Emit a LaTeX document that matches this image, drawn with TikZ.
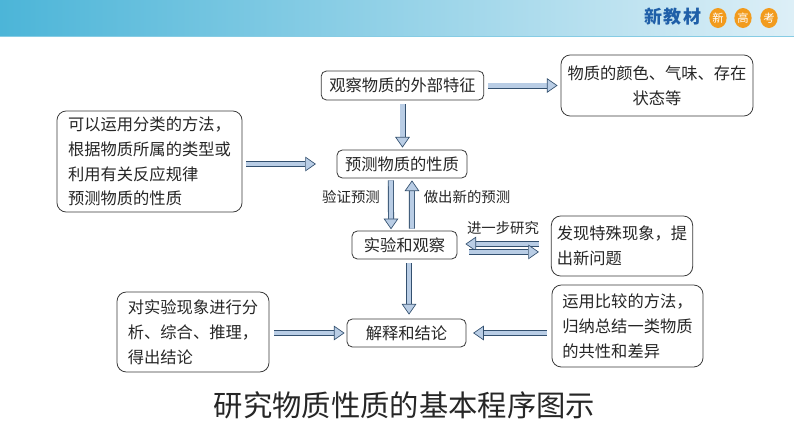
\documentclass[tikz,border=0pt]{standalone}
\usepackage{fontspec}
\setmainfont{Noto Sans CJK SC}
\usetikzlibrary{arrows.meta,shapes.geometric}
\definecolor{barleft}{HTML}{4CB5D8}
\definecolor{barmid}{HTML}{8FD0E6}
\definecolor{barright}{HTML}{DDEFF7}
\definecolor{arrowline}{HTML}{33506F}
\definecolor{arrowfill}{HTML}{B9CDE5}
\definecolor{boxline}{HTML}{3A3A3A}
\definecolor{brandblue}{HTML}{1F5FA8}
\definecolor{brandorange}{HTML}{F29B1D}
\tikzset{
  stepbox/.style={draw=boxline, line width=0.6pt, rounded corners=4pt, inner sep=0pt, font=\fontsize{12.2}{14}\selectfont, text=black!85},
  notebox/.style={draw=boxline, line width=0.6pt, rounded corners=7pt, inner sep=0pt, font=\fontsize{12.2}{18.6}\selectfont, text=black!85},
  blockarrow/.style={draw=arrowline, line width=0.6pt, double=arrowfill, double distance=3.3pt, -{Triangle[length=8pt,width=11pt,line width=0.5pt,fill=arrowfill]}},
  smalllabel/.style={inner sep=0pt, font=\fontsize{10.8}{13}\selectfont, text=black!85},
  brandchar/.style={inner sep=0pt, font=\fontsize{13.5}{15}\bfseries\selectfont, text=brandblue},
  brandball/.style={ellipse, fill=brandorange, minimum width=13pt, minimum height=15pt, inner sep=0pt, font=\fontsize{8.5}{10}\selectfont, text=white}
}
\begin{document}
\begin{tikzpicture}[x=0.75pt,y=-0.75pt]
\useasboundingbox (0,0) rectangle (794,447);
\fill[white] (0,0) rectangle (794,447);
\shade[left color=barleft, middle color=barmid, right color=barright] (0,0) rectangle (794,36);
\draw[barleft!60!barright, line width=0.5pt] (0,36) -- (794,36);

\node[brandchar] (brandone) at (653,17) {新};
\node[brandchar] (brandtwo) at (672,17) {教};
\node[brandchar] (brandthree) at (692,17) {材};
\node[brandball] (ballone) at (718,18) {新};
\node[brandball] (balltwo) at (743,18) {高};
\node[brandball] (ballthree) at (769,18) {考};

\node[stepbox, minimum width=122pt, minimum height=21.8pt] (observe) at (402.5,85.5) {观察物质的外部特征};
\node[stepbox, minimum width=97.5pt, minimum height=21pt] (predict) at (402,164) {预测物质的性质};
\node[stepbox, minimum width=78.8pt, minimum height=21pt] (test) at (404.5,245) {实验和观察};
\node[stepbox, minimum width=89.3pt, minimum height=21pt] (explain) at (406.5,333) {解释和结论};

\node[notebox, align=center, minimum width=144pt, minimum height=45.8pt] (feature) at (657,85.5) {物质的颜色、气味、存在\\状态等};
\node[notebox, align=left, minimum width=138.8pt, minimum height=75.8pt] (method) at (149.5,161.5) {可以运用分类的方法，\\根据物质所属的类型或\\利用有关反应规律\\预测物质的性质};
\node[notebox, align=left, minimum width=106pt, minimum height=45pt] (found) at (622,246) {发现特殊现象，提\\出新问题};
\node[notebox, align=left, minimum width=113.3pt, minimum height=61.5pt] (compare) at (627.5,326) {运用比较的方法，\\归纳总结一类物质\\的共性和差异};
\node[notebox, align=left, minimum width=114pt, minimum height=60pt] (analyse) at (193,332) {对实验现象进行分\\析、综合、推理，\\得出结论};

\draw[blockarrow, shorten <=3pt, shorten >=2.3pt] (observe.east) -- (feature.west);
\draw[blockarrow, shorten <=3pt, shorten >=1.5pt] (observe.south) -- (observe.south |- predict.north);
\draw[blockarrow, shorten <=3pt, shorten >=15.5pt] (method.east |- predict.west) -- (predict.west);
\draw[blockarrow, shorten <=1.5pt, shorten >=1pt] ([xshift=-8.3pt]predict.south) -- ([xshift=-10.1pt]test.north);
\draw[blockarrow, shorten <=1.5pt, shorten >=1.5pt] ([xshift=5.6pt]test.north) -- ([xshift=7.5pt]predict.south);
\draw[blockarrow, shorten <=9pt, shorten >=6pt] ([yshift=1.5pt]found.west) -- ([yshift=1.5pt]found.west -| test.east);
\draw[blockarrow, shorten <=9pt, shorten >=9pt] ([yshift=-5.2pt]test.east) -- ([yshift=-5.2pt]test.east -| found.west);
\draw[blockarrow, shorten <=3pt, shorten >=3pt] ([xshift=3.4pt]test.south) -- ([xshift=3.4pt]test.south |- explain.north);
\draw[blockarrow, shorten <=3.5pt, shorten >=1.5pt] (analyse.east |- explain.west) -- (explain.west);
\draw[blockarrow, shorten <=3.5pt, shorten >=5pt] (compare.west |- explain.east) -- (explain.east);

\node[smalllabel] (verify) at (351,197) {验证预测};
\node[smalllabel] (newguess) at (467,197) {做出新的预测};
\node[smalllabel] (further) at (503,228) {进一步研究};
\node[inner sep=0pt, font=\fontsize{22}{26}\selectfont, text=black!85] (title) at (404.5,405) {研究物质性质的基本程序图示};
\end{tikzpicture}
\end{document}
